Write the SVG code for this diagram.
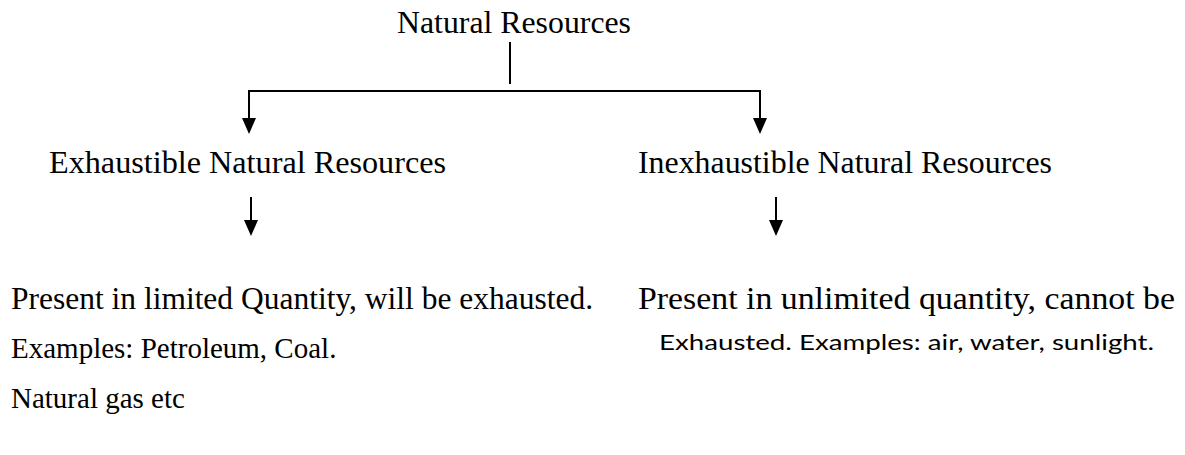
<svg xmlns="http://www.w3.org/2000/svg" width="1185" height="455" viewBox="0 0 1185 455">
<style>
.t{font-family:"Liberation Serif","Times New Roman",serif;font-size:31px;fill:#000}
.s{font-size:29px}
.c{font-family:Lato,"Open Sans","Liberation Sans",sans-serif;font-size:21px;fill:#000}
.ln{stroke:#000;stroke-width:2;fill:none}
</style>
<rect width="1185" height="455" fill="#fff"/>
<g id="connectors">
<line class="ln" x1="510" y1="42" x2="510" y2="84"/>
<polyline class="ln" points="249,120 249,91 760,91 760,120"/>
<path d="M242,118 L256,118 L249,134 Z" fill="#000"/>
<path d="M753,118 L767,118 L760,134 Z" fill="#000"/>
<line class="ln" x1="251" y1="197" x2="251" y2="222"/>
<path d="M244,220 L258,220 L251,236 Z" fill="#000"/>
<line class="ln" x1="776" y1="197" x2="776" y2="222"/>
<path d="M769,220 L783,220 L776,236 Z" fill="#000"/>
</g>
<g id="root"><text class="t" x="397" y="33" textLength="234" lengthAdjust="spacingAndGlyphs">Natural Resources</text></g>
<g id="exhaustible"><text class="t" x="49" y="173" textLength="397" lengthAdjust="spacingAndGlyphs">Exhaustible Natural Resources</text></g>
<g id="inexhaustible"><text class="t" x="638" y="173" textLength="414" lengthAdjust="spacingAndGlyphs">Inexhaustible Natural Resources</text></g>
<g id="exhaustible-desc">
<text class="t" x="11" y="309" textLength="582" lengthAdjust="spacingAndGlyphs">Present in limited Quantity, will be exhausted.</text>
<text class="t s" x="11" y="358">Examples: Petroleum, Coal.</text>
<text class="t s" x="11" y="408">Natural gas etc</text>
</g>
<g id="inexhaustible-desc">
<text class="t" x="638" y="309" style="font-size:32px" textLength="537" lengthAdjust="spacingAndGlyphs">Present in unlimited quantity, cannot be</text>
<text class="c" x="659" y="350" textLength="495" lengthAdjust="spacingAndGlyphs">Exhausted. Examples: air, water, sunlight.</text>
</g>
</svg>
